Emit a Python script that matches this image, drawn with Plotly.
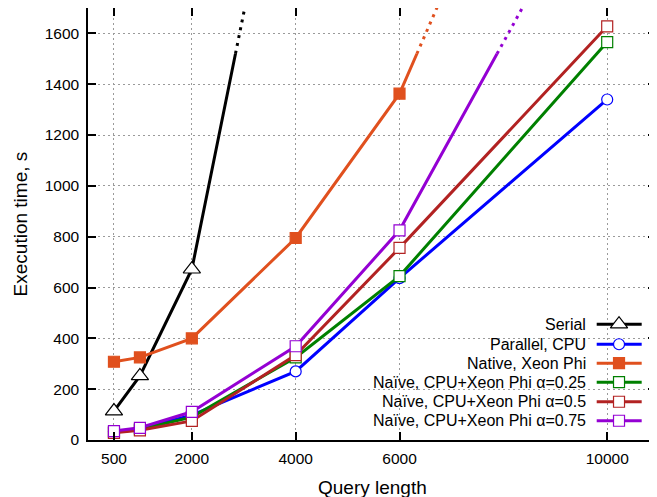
import plotly.graph_objects as go

# ---- data ----
query_len = [500, 1000, 2000, 4000, 6000, 10000]
x_ticks = [500, 2000, 4000, 6000, 10000]
y_ticks = [0, 200, 400, 600, 800, 1000, 1200, 1400, 1600]

serial_x = [500, 1000, 2000]
serial_y = [114, 252, 672]
serial_next = (4000, 2690)          # off-chart continuation

parallel_cpu = [32, 44, 98, 270, 637, 1340]

native_x = [500, 1000, 2000, 4000, 6000]
native_y = [308, 325, 400, 795, 1363]
native_next = (10000, 3240)          # off-chart continuation

naive_025 = [30, 42, 90, 325, 645, 1566]
naive_05 = [28, 38, 75, 334, 756, 1628]

naive_075_x = [500, 1000, 2000, 4000, 6000]
naive_075_y = [35, 48, 111, 369, 825]
naive_075_next = (10000, 2305)      # off-chart continuation

break_level = 1520                  # solid line turns dotted above this value

names = ["Serial", "Parallel, CPU", "Native, Xeon Phi",
         "Naïve, CPU+Xeon Phi α=0.25", "Naïve, CPU+Xeon Phi α=0.5",
         "Naïve, CPU+Xeon Phi α=0.75"]
colors = ["#000000", "#0000FF", "#E0501E", "#008000", "#B22222", "#9400D3"]
symbols = ["triangle-up-open", "circle-open", "square", "square-open",
           "square-open", "square-open"]

FONT = "Liberation Sans, Arial, Helvetica, sans-serif"
LW = 3

fig = go.Figure()


def marker_for(i, n_pts, n_extra=0):
    fill = colors[i] if symbols[i] == "square" else "white"
    sym = symbols[i].replace("-open", "")
    size = {"triangle-up": 15, "circle": 11, "square": 11}[sym]
    sizes = [size] * n_pts + [0] * n_extra
    return dict(symbol=sym, size=sizes, color=fill, opacity=1,
                line=dict(color=colors[i], width=1.2))


def add_series(i, xs, ys, nxt=None):
    if nxt is None:
        fig.add_trace(go.Scatter(x=xs, y=ys, mode="lines+markers",
                                 line=dict(color=colors[i], width=LW),
                                 marker=marker_for(i, len(xs)),
                                 cliponaxis=False, showlegend=False))
        return
    x0, y0 = xs[-1], ys[-1]
    x1, y1 = nxt
    t = (break_level - y0) / (y1 - y0)
    xb = x0 + t * (x1 - x0)
    # dotted continuation
    fig.add_trace(go.Scatter(x=[xb, x1], y=[break_level, y1], mode="lines",
                             line=dict(color=colors[i], width=LW, dash="3px,5px"),
                             showlegend=False))
    fig.add_trace(go.Scatter(x=list(xs) + [xb], y=list(ys) + [break_level],
                             mode="lines+markers",
                             line=dict(color=colors[i], width=LW),
                             marker=marker_for(i, len(xs), 1),
                             cliponaxis=False, showlegend=False))


add_series(0, serial_x, serial_y, serial_next)
add_series(1, query_len, parallel_cpu)
add_series(2, native_x, native_y, native_next)
add_series(3, query_len, naive_025)
add_series(4, query_len, naive_05)
add_series(5, naive_075_x, naive_075_y, naive_075_next)

# ---- custom legend (text left of sample, like the original) ----
leg_rows = [0.268, 0.2217, 0.1778, 0.1339, 0.0885, 0.0446]
leg_x0, leg_xm, leg_x1, leg_text_x = 0.8956, 0.9349, 0.9748, 0.8800
for i, name in enumerate(names):
    m = marker_for(i, 1)
    m["size"] = [0, m["size"][0], 0]
    fig.add_trace(go.Scatter(x=[leg_x0, leg_xm, leg_x1],
                             y=[leg_rows[i]] * 3, mode="lines+markers",
                             line=dict(color=colors[i], width=LW), marker=m,
                             xaxis="x2", yaxis="y2", showlegend=False,
                             hoverinfo="skip"))
    fig.add_annotation(x=leg_text_x, y=leg_rows[i], xref="paper", yref="paper",
                       text=name, showarrow=False, xanchor="right",
                       yanchor="middle", font=dict(size=16, color="black", family=FONT))

fig.add_shape(type="rect", xref="paper", yref="paper", x0=0.47, x1=0.995,
              y0=0.018, y1=0.291, fillcolor="white", line=dict(width=0),
              layer="between")

# axis titles
fig.add_annotation(x=0.5, y=-0.109, xref="paper", yref="paper", text="Query length",
                   showarrow=False, xanchor="center", yanchor="middle",
                   font=dict(size=19, color="black", family=FONT))
fig.add_annotation(x=-0.119, y=0.5, xref="paper", yref="paper", text="Execution time, s",
                   showarrow=False, xanchor="center", yanchor="middle", textangle=-90,
                   borderpad=0, font=dict(size=19, color="black", family=FONT))

axis_common = dict(showline=True, linecolor="black", linewidth=1.5, mirror="ticks",
                   ticks="inside", ticklen=8, tickwidth=1.5, tickcolor="black",
                   showgrid=True, gridcolor="#9a9a9a", griddash="2px,3px", gridwidth=1,
                   zeroline=False, automargin=False,
                   tickfont=dict(size=15.5, color="black", family=FONT))

# the page body adds an 8px offset, so the figure is sized/margined to compensate
fig.update_layout(
    width=649, height=489,
    margin=dict(l=80, r=1, t=0, b=57),
    paper_bgcolor="white", plot_bgcolor="white",
    font=dict(family=FONT, color="black"),
    showlegend=False,
    xaxis=dict(range=[0, 10940], tickvals=x_ticks, ticktext=[str(v) for v in x_ticks],
               ticklabelstandoff=4, **axis_common),
    yaxis=dict(range=[0, 1700], tickvals=y_ticks,
               ticklabelstandoff=4, **axis_common),
    xaxis2=dict(overlaying="x", range=[0, 1], visible=False, fixedrange=True),
    yaxis2=dict(overlaying="y", range=[0, 1], visible=False, fixedrange=True),
)

fig.write_html("out.html")
